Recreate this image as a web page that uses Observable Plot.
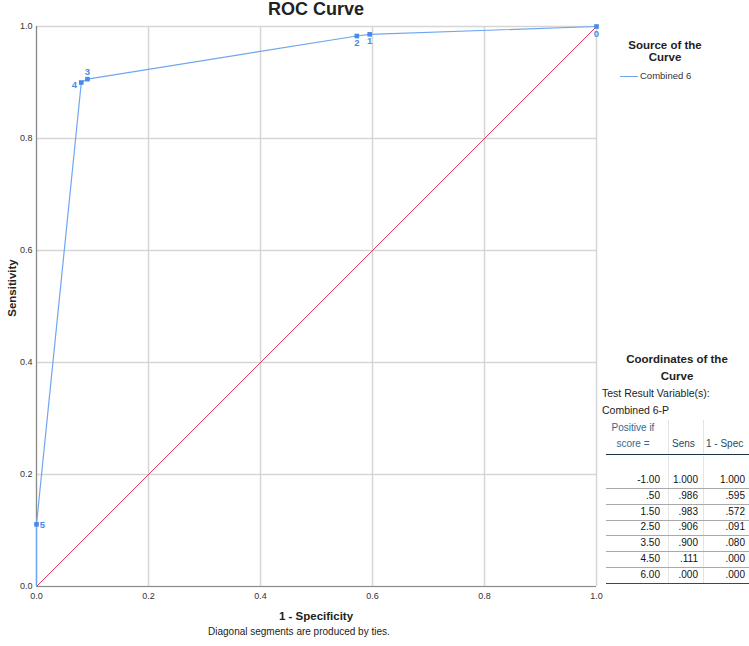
<!DOCTYPE html>
<html>
<head>
<meta charset="utf-8">
<script src="https://cdn.jsdelivr.net/npm/d3@7"></script>
<script src="https://cdn.jsdelivr.net/npm/@observablehq/plot@0.6"></script>
<style>
  html, body { margin: 0; padding: 0; background: #fff; }
  #wrap { position: relative; width: 749px; height: 646px; overflow: hidden; font-family: "Liberation Sans", Arial, sans-serif; color: #222; }
  #chart { position: absolute; left: 0; top: 0; }
  .abs { position: absolute; white-space: nowrap; }
  .btitle { font-weight: bold; font-size: 11.5px; text-align: center; }
  .cell { position: absolute; font-size: 10px; line-height: 12px; height: 12px; color: #111; white-space: nowrap; }
  .hline { position: absolute; height: 0; }
  .vline { position: absolute; width: 0; border-left: 1px solid #e3e3e3; }
</style>
</head>
<body>
<div id="wrap">
  <div id="chart"></div>
</div>
<script>
// ---- data ----
const cutoffs = ["-1.00", ".50", "1.50", "2.50", "3.50", "4.50", "6.00"];
const sensitivity = [1.000, 0.986, 0.983, 0.906, 0.900, 0.111, 0.000];
const oneMinusSpec = [1.000, 0.595, 0.572, 0.091, 0.080, 0.000, 0.000];
const pointLabels = ["0", "1", "2", "3", "4", "5", "6"];
const diagonal = [0, 1];
const axisTicks = [0, 0.2, 0.4, 0.6, 0.8, 1.0];
const seriesName = "Combined 6";
const testVariable = "Combined 6-P";
const tableHeaders = ["Positive if", "score =", "Sens", "1 - Spec"];

const roc = cutoffs.map((c, i) => ({cut: c, sens: sensitivity[i], fpr: oneMinusSpec[i], label: pointLabels[i]}));
const shown = roc.filter(d => d.label !== "6");
const diag = diagonal.map(v => ({x: v, y: v}));

const blueLine = "#6fa6ef";
const blueMark = "#4a8ae6";
const labelFont = {fontSize: 9.5, fontWeight: "bold", fill: blueMark};

const chart = Plot.plot({
  width: 749, height: 646,
  marginLeft: 36, marginRight: 153, marginTop: 26, marginBottom: 60,
  style: {fontFamily: "Liberation Sans, Arial, sans-serif", fontSize: "9px", color: "#333", background: "transparent"},
  x: {domain: [0, 1], ticks: axisTicks, tickFormat: d3.format(".1f"), tickSize: 0, tickPadding: 6, label: null},
  y: {domain: [0, 1], ticks: axisTicks, tickFormat: d3.format(".1f"), tickSize: 0, tickPadding: 4, label: null},
  marks: [
    Plot.gridX(axisTicks, {stroke: "#d6d6d6", strokeOpacity: 1, strokeWidth: 1.5}),
    Plot.gridY(axisTicks, {stroke: "#d6d6d6", strokeOpacity: 1, strokeWidth: 1.5}),
    Plot.ruleY([0], {stroke: "#8a8a8a", strokeWidth: 1.2}),
    Plot.ruleX([0], {stroke: "#8a8a8a", strokeWidth: 1.2}),
    Plot.line(diag, {x: "x", y: "y", stroke: "#e23a5e", strokeWidth: 1}),
    Plot.line(roc, {x: "fpr", y: "sens", stroke: blueLine, strokeWidth: 1.2}),
    Plot.dot(shown, {x: "fpr", y: "sens", symbol: "square", r: 2.6, fill: blueMark, stroke: "none"}),
    Plot.text(shown, {filter: d => ["0", "1", "2"].includes(d.label), x: "fpr", y: "sens", text: "label", dy: 7, ...labelFont}),
    Plot.text(shown, {filter: d => d.label === "3", x: "fpr", y: "sens", text: "label", dy: -7, ...labelFont}),
    Plot.text(shown, {filter: d => d.label === "4", x: "fpr", y: "sens", text: "label", dx: -7, dy: 2, ...labelFont}),
    Plot.text(shown, {filter: d => d.label === "5", x: "fpr", y: "sens", text: "label", dx: 6, dy: 1, ...labelFont})
  ]
});
document.getElementById("chart").appendChild(chart);

const wrap = document.getElementById("wrap");
function add(html, css, cls) {
  const el = document.createElement("div");
  el.className = (cls || "abs");
  el.innerHTML = html;
  Object.assign(el.style, css);
  wrap.appendChild(el);
  return el;
}
// title
add("ROC Curve", {left: "216px", top: "0px", width: "200px", textAlign: "center", fontWeight: "bold", fontSize: "18px", lineHeight: "18px"});
// axis labels
add("1 - Specificity", {left: "266px", top: "610px", width: "100px", textAlign: "center", fontWeight: "bold", fontSize: "11.5px"});
add("Sensitivity", {left: "-28px", top: "282px", width: "80px", textAlign: "center", fontWeight: "bold", fontSize: "11.5px", transform: "rotate(-90deg)"});
add("Diagonal segments are produced by ties.", {left: "208px", top: "626px", fontSize: "10px", color: "#222"});
// legend
add("Source of the<br>Curve", {left: "605px", top: "40px", width: "120px", lineHeight: "11.5px"}, "abs btitle");
add('<span style="display:inline-block;width:18px;height:0;border-top:1.2px solid ' + blueLine + ';vertical-align:middle;margin-right:2px"></span>' + seriesName,
    {left: "620px", top: "70px", fontSize: "9.5px", color: "#333"});
// coordinates table
add("Coordinates of the<br>Curve", {left: "612px", top: "351px", width: "130px", lineHeight: "17px"}, "abs btitle");
add("Test Result Variable(s):", {left: "602px", top: "387px", fontSize: "10.5px", color: "#222"});
add(testVariable, {left: "602px", top: "404px", fontSize: "10.5px", color: "#222"});

// column geometry
const colLeft = [606, 668, 703], colRight = [668, 703, 749], padR = [8, 5, 4];
const headTop = 420, thickY = 454, rowY0 = 480, rowStep = 15.8;
const hdrColor = "#2f6a93", hdr2Color = "#264a60";
const bodyBottom = rowY0 + rowStep * (cutoffs.length - 1) + 8;
// vertical separators
[0, 1].forEach(j => {
  add("", {left: colRight[j] + "px", top: headTop + "px", height: (thickY - headTop) + "px"}, "vline");
  add("", {left: colRight[j] + "px", top: (thickY + 2) + "px", height: (bodyBottom - thickY - 2) + "px"}, "vline");
});
// header
add(tableHeaders[0], {left: colLeft[0] + "px", width: (colRight[0] - colLeft[0] - 8) + "px", top: (428 - 6) + "px", textAlign: "center", color: hdrColor}, "cell");
add(tableHeaders[1], {left: colLeft[0] + "px", width: (colRight[0] - colLeft[0] - 8) + "px", top: (444 - 6) + "px", textAlign: "center", color: hdrColor}, "cell");
add(tableHeaders[2], {left: (colLeft[1] + 4) + "px", top: (444 - 6) + "px", color: hdr2Color}, "cell");
add(tableHeaders[3], {left: (colLeft[2] + 3) + "px", top: (444 - 6) + "px", color: hdr2Color}, "cell");
add("", {left: "606px", width: "143px", top: thickY + "px", borderTop: "1.6px solid #1b3448"}, "hline");
// rows
const fmt3 = v => d3.format(".3f")(v).replace(/^0/, "");
roc.forEach((d, i) => {
  const cy = rowY0 + i * rowStep;
  const vals = [d.cut, fmt3(d.sens), fmt3(d.fpr)];
  vals.forEach((v, j) => {
    add(v, {left: colLeft[j] + "px", width: (colRight[j] - colLeft[j] - padR[j]) + "px", top: (cy - 6) + "px", textAlign: "right"}, "cell");
  });
  const last = i === roc.length - 1;
  add("", {left: "606px", width: "143px", top: (cy + 8) + "px", borderTop: last ? "1.5px solid #444" : "1px solid #a9a9a9"}, "hline");
});
</script>
</body>
</html>
